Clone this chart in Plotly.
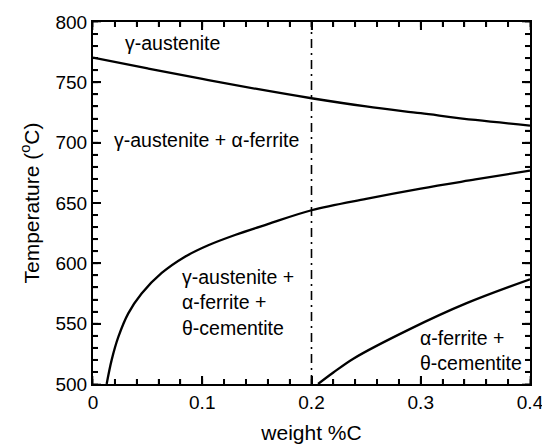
import plotly.graph_objects as go

# Data
upper_wt = [0, 0.05, 0.1, 0.15, 0.2, 0.25, 0.3, 0.35, 0.4]
upper_T = [770.5, 761.5, 752.8, 744.5, 736.8, 730.0, 724.4, 718.8, 714.1]

a1_wt = [0.0125, 0.0171, 0.0232, 0.0323, 0.0445, 0.0629, 0.0842, 0.1055, 0.13, 0.16, 0.2, 0.25, 0.3, 0.35, 0.4]
a1_T = [500, 520, 539, 558.5, 575, 592, 605.5, 615, 623.5, 632.5, 644, 653.5, 662, 669.5, 676.8]

lower_wt = [0.206, 0.22, 0.2383, 0.29, 0.342, 0.4]
lower_T = [500, 509.5, 521, 545.5, 567, 586.8]

comp_wt = [0.2, 0.2]
comp_T = [500, 800]

# Axis ranges and tick spacing (major / minor)
x_range = [0, 0.4]
y_range = [500, 800]
x_major, x_minor = 0.1, 0.02
y_major, y_minor = 50, 10

FONT = "Liberation Sans, Arial, sans-serif"
W, H = 542, 448
ML, MR, MT, MB = 93, 12, 22, 64
PW, PH = W - ML - MR, H - MT - MB
MAJ_LEN, MIN_LEN = 8, 5

fig = go.Figure()
line = dict(color="black", width=2.3, shape="spline", smoothing=1.0)
fig.add_trace(go.Scatter(x=upper_wt, y=upper_T, mode="lines", line=line, showlegend=False))
fig.add_trace(go.Scatter(x=a1_wt, y=a1_T, mode="lines", line=line, showlegend=False))
fig.add_trace(go.Scatter(x=lower_wt, y=lower_T, mode="lines", line=line, showlegend=False))
fig.add_trace(go.Scatter(x=comp_wt, y=comp_T, mode="lines",
                         line=dict(color="black", width=1.6, dash="9px,5px,2px,5px"), showlegend=False))

ann_font = dict(family=FONT, size=19.5, color="black")
fig.add_annotation(x=0.0732, y=782.6, text="γ-austenite", showarrow=False, font=ann_font)
fig.add_annotation(x=0.1039, y=702.2, text="γ-austenite + α-ferrite", showarrow=False, font=ann_font)
fig.add_annotation(x=0.0796, y=567.2, text="γ-austenite +<br>α-ferrite +<br>θ-cementite", showarrow=False,
                   font=ann_font, xanchor="left", yanchor="middle", align="left")
fig.add_annotation(x=0.2975, y=527.8, text="α-ferrite +<br>θ-cementite", showarrow=False,
                   font=ann_font, xanchor="left", yanchor="middle", align="left")

# Inside tick marks on all four sides, placed at axis values (major and minor)
def tick_values(lo, hi, step):
    n = int(round((hi - lo) / step))
    return [lo + i * step for i in range(n + 1)]

tick_line = dict(color="black", width=2)
for step, length in ((x_minor, MIN_LEN), (x_major, MAJ_LEN)):
    f = length / PH
    for v in tick_values(x_range[0], x_range[1], step):
        fig.add_shape(type="line", xref="x", yref="paper", x0=v, x1=v, y0=0, y1=f, line=tick_line)
        fig.add_shape(type="line", xref="x", yref="paper", x0=v, x1=v, y0=1 - f, y1=1, line=tick_line)
for step, length in ((y_minor, MIN_LEN), (y_major, MAJ_LEN)):
    f = length / PW
    for v in tick_values(y_range[0], y_range[1], step):
        fig.add_shape(type="line", xref="paper", yref="y", x0=0, x1=f, y0=v, y1=v, line=tick_line)
        fig.add_shape(type="line", xref="paper", yref="y", x0=1 - f, x1=1, y0=v, y1=v, line=tick_line)

fig.update_layout(template="simple_white", width=W, height=H,
                  margin=dict(l=ML, r=MR, t=MT, b=MB),
                  plot_bgcolor="white", paper_bgcolor="white")

fig.update_xaxes(range=x_range, tickmode="linear", tick0=0, dtick=x_major,
                 ticks="inside", ticklen=MAJ_LEN, tickwidth=2, tickcolor="black",
                 mirror="ticks", showline=True, linecolor="black", linewidth=2,
                 minor=dict(ticks="inside", ticklen=MIN_LEN, tickwidth=2, tickcolor="black", dtick=x_minor),
                 automargin=False, ticklabeloverflow="allow",
                 tickfont=dict(family=FONT, size=19, color="black"),
                 title=dict(text="weight %C", font=dict(family=FONT, size=21, color="black"), standoff=14))
fig.update_yaxes(range=y_range, tickmode="linear", tick0=500, dtick=y_major,
                 ticks="inside", ticklen=MAJ_LEN, tickwidth=2, tickcolor="black",
                 mirror="ticks", showline=True, linecolor="black", linewidth=2,
                 minor=dict(ticks="inside", ticklen=MIN_LEN, tickwidth=2, tickcolor="black", dtick=y_minor),
                 automargin=False,
                 tickfont=dict(family=FONT, size=19, color="black"),
                 title=dict(text="Temperature (<sup>o</sup>C)", font=dict(family=FONT, size=21, color="black"), standoff=10))

fig.write_html("out.html")
